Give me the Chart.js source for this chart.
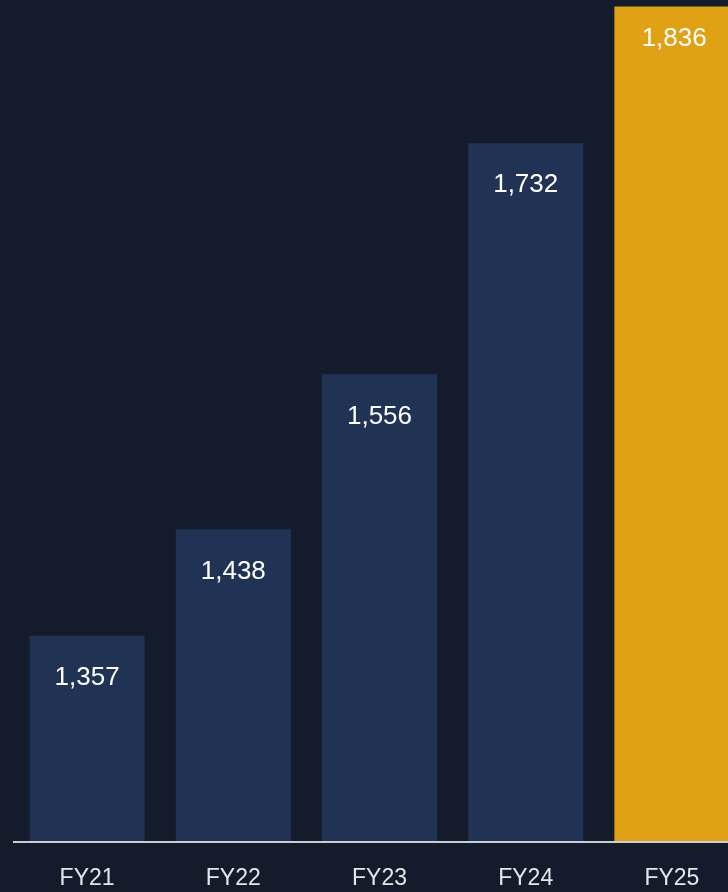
<!DOCTYPE html>
<html>
<head>
<meta charset="utf-8">
<script src="https://cdn.jsdelivr.net/npm/chart.js@4"></script>
<style>
  html, body { margin: 0; padding: 0; background: #141c2b; overflow: hidden; }
  #wrap { width: 728px; height: 892px; overflow: hidden; }
  #box { width: 745px; height: 892px; }
</style>
</head>
<body>
<div id="wrap"><div id="box"><canvas id="canvas"></canvas></div></div>
<script>
var years = ["FY21", "FY22", "FY23", "FY24", "FY25"];
var revenue = [1357, 1438, 1556, 1732, 1836];
var barColors = ["#213354", "#213354", "#213354", "#213354", "#e0a114"];

// value labels sit inside the top of each bar
var valueLabels = {
    id: 'valueLabels',
    afterDatasetsDraw: function(chart){
        var ctx = chart.ctx;
        var meta = chart.getDatasetMeta(0);
        ctx.save();
        ctx.fillStyle = "#ffffff";
        ctx.font = "26px 'Liberation Sans', Arial, sans-serif";
        ctx.textAlign = "center";
        ctx.textBaseline = "middle";
        meta.data.forEach(function(bar, i){
            var y = bar.y + 42;
            if (i == meta.data.length - 1) y = bar.y + 32;
            var x = bar.x;
            if (x + 60 > 728) x = (bar.x - bar.width / 2 + 728) / 2 + 3;
            ctx.fillText(revenue[i].toLocaleString('en-US'), x, y);
        });
        ctx.restore();
    }
};

const ctx = document.getElementById('canvas').getContext('2d');
const myChart = new Chart(ctx, {
    type: 'bar',
    data: {
        labels: years,
        datasets: [{
            data: revenue,
            backgroundColor: barColors,
            barPercentage: 0.787,
            categoryPercentage: 1
        }]
    },
    options: {
        responsive: true,
        maintainAspectRatio: false,
        animation: false,
        layout: { padding: { left: 14, right: 0, top: 0, bottom: 0 } },
        plugins: {
            legend: { display: false },
            tooltip: { enabled: false }
        },
        scales: {
            x: {
                grid: { display: false, drawTicks: false },
                border: { display: true, color: "#c9cdd4", width: 2, z: 1 },
                ticks: {
                    color: "#e4e6ea",
                    padding: 23,
                    font: { family: "'Liberation Sans', Arial, sans-serif", size: 23 }
                },
                afterFit: function(scale){ scale.height = 50; }
            },
            y: {
                display: false,
                min: 1200,
                max: 1841
            }
        }
    },
    plugins: [valueLabels]
});
</script>
</body>
</html>
